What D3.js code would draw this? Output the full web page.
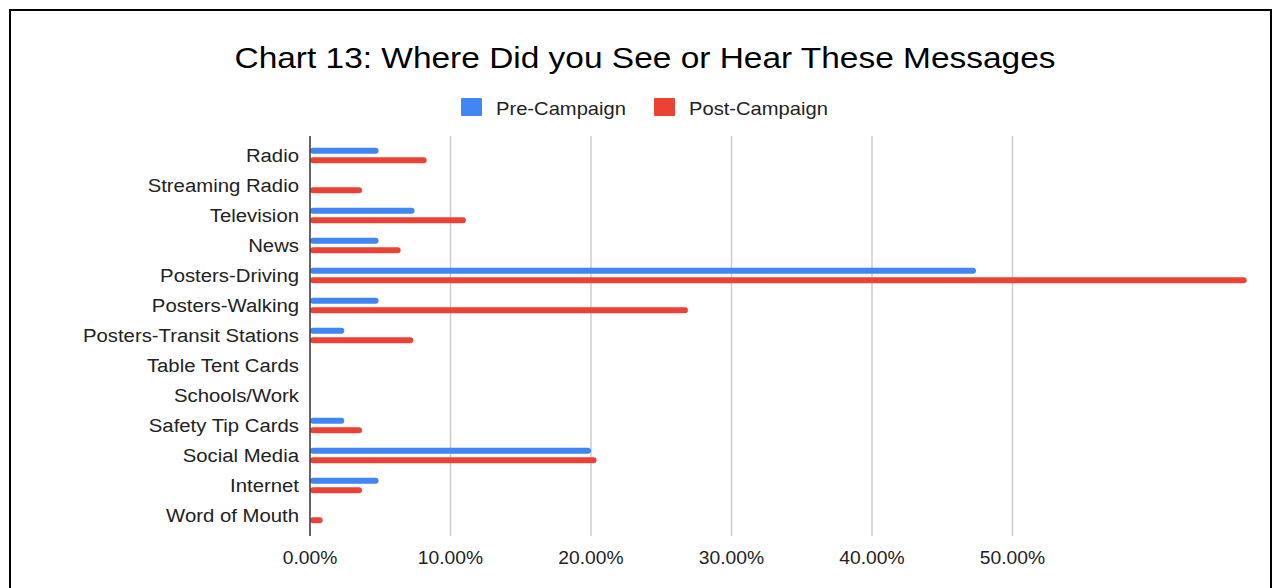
<!DOCTYPE html>
<html><head><meta charset="utf-8">
<script src="https://cdn.jsdelivr.net/npm/d3@7"></script>
<style>html,body{margin:0;padding:0;background:#fff;}svg{display:block;font-family:"Liberation Sans",Arial,sans-serif;}</style>
</head><body>
<svg id="chart" width="1280" height="588"></svg>
<script>
const categories = ["Radio","Streaming Radio","Television","News","Posters-Driving","Posters-Walking","Posters-Transit Stations","Table Tent Cards","Schools/Work","Safety Tip Cards","Social Media","Internet","Word of Mouth"];
const seriesNames = ["Pre-Campaign","Post-Campaign"];
const preCampaign = [0.0488,0,0.0744,0.0488,0.474,0.0488,0.0244,0,0,0.0244,0.20,0.0488,0];
const postCampaign = [0.083,0.037,0.111,0.0645,0.6667,0.269,0.0735,0,0,0.037,0.204,0.037,0.009];
const tickValues = [0,0.1,0.2,0.3,0.4,0.5];
const colors = ["#4285F4","#EA4335"];

const svg = d3.select("#chart");
svg.append("rect").attr("x",10).attr("y",10).attr("width",1261).attr("height",600)
  .attr("fill","#fff").attr("stroke","#000").attr("stroke-width",2);

function stretchText(sel, x, y, s){
  return sel.attr("transform", `translate(${x},${y}) scale(${s},1)`);
}

stretchText(svg.append("text"),645,68,1.115).attr("text-anchor","middle")
  .attr("font-size",30).attr("fill","#000").text("Chart 13: Where Did you See or Hear These Messages");

// legend
const legendX = [461,654];
seriesNames.forEach((s,i)=>{
  svg.append("rect").attr("x",legendX[i]).attr("y",98).attr("width",21).attr("height",18).attr("rx",1).attr("fill",colors[i]);
  stretchText(svg.append("text"),legendX[i]+35,114.5,1.12).attr("font-size",18).attr("fill","#222").text(s);
});

const x = d3.scaleLinear().domain([0,0.5]).range([310,1012.5]);
const y0 = d3.scaleBand().domain(categories).range([140.5,530.5]).padding(0);
const half = y0.bandwidth()/2;
const y1 = d3.scaleBand().domain(seriesNames).range([half-9.6, half+9.6]);

// gridlines
svg.append("g").selectAll("line").data(tickValues.slice(1)).join("line")
  .attr("x1",d=>x(d)).attr("x2",d=>x(d)).attr("y1",136).attr("y2",536)
  .attr("stroke","#cccccc").attr("stroke-width",1.5);

// bars
const data = categories.map((c,i)=>({cat:c, vals:[preCampaign[i], postCampaign[i]]}));
const barH = 6;
const g = svg.append("g");
data.forEach(d=>{
  d.vals.forEach((v,j)=>{
    if(v<=0) return;
    const yc = y0(d.cat) + y1(seriesNames[j]) + y1.bandwidth()/2;
    g.append("rect").attr("x",x(0)).attr("y",yc-barH/2)
      .attr("width",Math.max(x(v)-x(0),barH)).attr("height",barH)
      .attr("rx",3).attr("ry",3).attr("fill",colors[j]);
  });
});

// axis line
svg.append("line").attr("x1",x(0)).attr("x2",x(0)).attr("y1",136).attr("y2",536)
  .attr("stroke","#333").attr("stroke-width",1.5);

// category labels
svg.append("g").selectAll("text").data(categories).join("text")
  .attr("transform",d=>`translate(299,${y0(d)+half+6.8}) scale(1.13,1)`)
  .attr("text-anchor","end")
  .attr("font-size",18).attr("fill","#222").text(d=>d);

// x tick labels
const fmt = d3.format(".2%");
svg.append("g").selectAll("text").data(tickValues).join("text")
  .attr("transform",d=>`translate(${x(d)},564) scale(1.07,1)`).attr("text-anchor","middle")
  .attr("font-size",18).attr("fill","#222").text(d=>fmt(d));
</script>
</body></html>
